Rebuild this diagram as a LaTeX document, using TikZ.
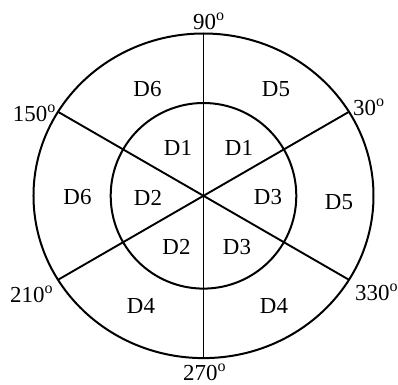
\documentclass[tikz,border=0pt]{standalone}
\usepackage{fontspec}
\setmainfont{Liberation Serif}
\usetikzlibrary{calc}

\begin{document}
\begin{tikzpicture}[
  x=1bp, y=1bp,
  ring/.style={line width=2bp},
  spoke/.style={line width=1.9bp},
  lbl/.style={inner sep=0pt, font=\fontsize{23}{27}\selectfont},
  deg/.style={inner sep=0pt, anchor=base west, font=\fontsize{23}{27}\selectfont},
]
\useasboundingbox (-203.5,-189.2) rectangle (194.5,195.8);

% Centre and rim points
\coordinate (o) at (0,0);
\coordinate (p30) at (30:168);
\coordinate (p90) at (90:162.3);
\coordinate (p150) at (150:168);
\coordinate (p210) at (210:168);
\coordinate (p270) at (270:162.3);
\coordinate (p330) at (330:168);

% Circles
\draw[ring] (o) ellipse [x radius=170bp, y radius=162.3bp];
\draw[ring] (o) circle [radius=92.8bp];

% Spokes through the centre
\draw[spoke] (p90) -- (p270);
\draw[spoke] (p30) -- (p210);
\draw[spoke] (p150) -- (p330);

% Inner sectors
\node[lbl] (d1l) at (-25.5,48.3) {D1};
\node[lbl] (d1r) at (35.5,48.3) {D1};
\node[lbl] (d2l) at (-55.5,-1.7) {D2};
\node[lbl] (d3r) at (64.5,-1.7) {D3};
\node[lbl] (d2b) at (-27,-51.2) {D2};
\node[lbl] (d3b) at (33.5,-51.2) {D3};

% Outer sectors
\node[lbl] (d6t) at (-56,106.8) {D6};
\node[lbl] (d5t) at (72.5,106.8) {D5};
\node[lbl] (d6l) at (-126,-1.7) {D6};
\node[lbl] (d5r) at (135.5,-6.7) {D5};
\node[lbl] (d4l) at (-62.5,-109.7) {D4};
\node[lbl] (d4r) at (70.5,-109.7) {D4};

% Angles
\node[deg] (a90) at (-10.5,166.5) {90\textsuperscript{o}};
\node[deg] (a150) at (-190.8,74.1) {150\textsuperscript{o}};
\node[deg] (a30) at (149.5,80.8) {30\textsuperscript{o}};
\node[deg] (a210) at (-193.5,-106.2) {210\textsuperscript{o}};
\node[deg] (a330) at (151.5,-104.2) {330\textsuperscript{o}};
\node[deg] (a270) at (-20.5,-184.2) {270\textsuperscript{o}};

\end{tikzpicture}
\end{document}
